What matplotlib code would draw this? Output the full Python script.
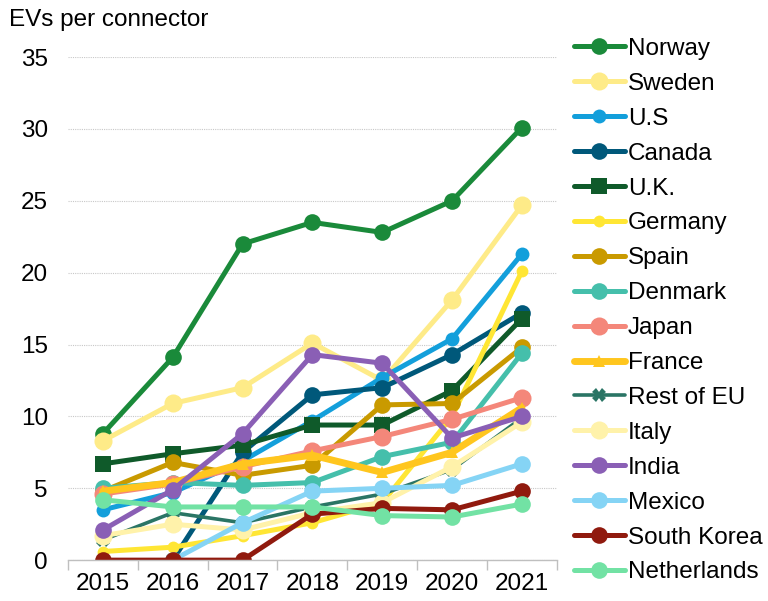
import numpy as np
import matplotlib
matplotlib.use("Agg")
import matplotlib.pyplot as plt

plt.rcParams['font.family'] = ['Liberation Sans', 'DejaVu Sans']

years = ['2015', '2016', '2017', '2018', '2019', '2020', '2021']
nan = np.nan

norway = [8.8, 14.1, 22.0, 23.5, 22.8, 25.0, 30.1]
sweden = [8.3, 10.9, 12.0, 15.1, 12.5, 18.1, 24.7]
us = [3.5, 4.7, 6.9, 9.7, 12.7, 15.4, 21.3]
canada = [nan, 0.0, 7.5, 11.5, 12.0, 14.3, 17.2]
uk = [6.7, 7.4, 8.0, 9.4, 9.4, 11.8, 16.8]
germany = [0.6, 0.9, 1.7, 2.6, 4.0, 10.0, 20.1]
spain = [4.8, 6.8, 5.9, 6.6, 10.8, 10.9, 14.8]
denmark = [5.0, 5.4, 5.2, 5.4, 7.2, 8.2, 14.4]
japan = [4.6, 5.3, 6.5, 7.6, 8.6, 9.8, 11.3]
france = [4.8, 5.4, 6.7, 7.3, 6.1, 7.5, 10.6]
rest_eu = [1.4, 3.3, 2.6, 3.7, 4.6, 6.3, 9.9]
italy = [1.7, 2.5, 2.1, 3.3, 4.0, 6.5, 9.6]
india = [2.1, 4.9, 8.8, 14.3, 13.7, 8.5, 10.0]
mexico = [nan, 0.0, 2.6, 4.8, 5.0, 5.2, 6.7]
south_korea = [0.0, 0.0, 0.0, 3.2, 3.6, 3.5, 4.8]
netherlands = [4.2, 3.7, 3.7, 3.7, 3.1, 3.0, 3.9]

# label, values, colour, marker, markersize, linewidth
series = [
    ('Norway', norway, '#1a8a3a', 'o', 12, 3.6),
    ('Sweden', sweden, '#feeb88', 'o', 13, 3.6),
    ('U.S', us, '#139fdb', 'o', 10, 3.6),
    ('Canada', canada, '#00587a', 'o', 12, 3.6),
    ('U.K.', uk, '#0f5a2a', 's', 11, 3.6),
    ('Germany', germany, '#ffe634', 'o', 8.5, 3.6),
    ('Spain', spain, '#c99a00', 'o', 12, 3.6),
    ('Denmark', denmark, '#45bfab', 'o', 12, 3.6),
    ('Japan', japan, '#f4877a', 'o', 13, 3.6),
    ('France', france, '#ffc61e', '^', 9, 5.0),
    ('Rest of EU', rest_eu, '#2a7565', 'X', 10, 2.6),
    ('Italy', italy, '#fff2aa', 'o', 13, 3.6),
    ('India', india, '#8a5fb5', 'o', 12, 3.6),
    ('Mexico', mexico, '#85d4f5', 'o', 12, 3.6),
    ('South Korea', south_korea, '#901a0e', 'o', 12, 3.6),
    ('Netherlands', netherlands, '#72e2a4', 'o', 12, 3.6),
]

fs = 17.5

fig = plt.figure(figsize=(7.68, 6.01), dpi=100)
ax = fig.add_axes([0.0885, 0.068, 0.6365, 0.837])

x = np.arange(len(years))
for label, vals, color, marker, ms, lw in series:
    ax.plot(x, vals, color=color, marker=marker, markersize=ms, linewidth=lw,
            label=label, markeredgewidth=0, solid_capstyle='round')

ax.set_xlim(-0.5, 6.5)
ax.set_ylim(0, 35)
ax.set_yticks(range(0, 36, 5))
ax.set_xticks(x)
ax.set_xticklabels(years)
ax.set_xticks(np.arange(-0.5, 7, 1), minor=True)
ax.tick_params(axis='x', which='major', length=0, labelsize=fs, pad=9)
ax.tick_params(axis='x', which='minor', length=7, color='#bfbfbf', width=1)
ax.tick_params(axis='y', length=0, labelsize=fs, pad=14.5)

ax.grid(axis='y', color='#c8c8c8', linestyle=(0, (1, 1)), linewidth=0.8)
ax.set_axisbelow(True)
for s in ['top', 'right', 'left']:
    ax.spines[s].set_visible(False)
ax.spines['bottom'].set_color('#bfbfbf')
ax.spines['bottom'].set_linewidth(1)

fig.text(0.012, 0.967, 'EVs per connector', fontsize=fs, va='center', ha='left')

fig.legend(loc='upper left', bbox_to_anchor=(0.735, 0.953), frameon=False,
           fontsize=fs, handlelength=2.07, handletextpad=0.14,
           labelspacing=0.53, borderaxespad=0)

fig.savefig('out.png', dpi=100)
